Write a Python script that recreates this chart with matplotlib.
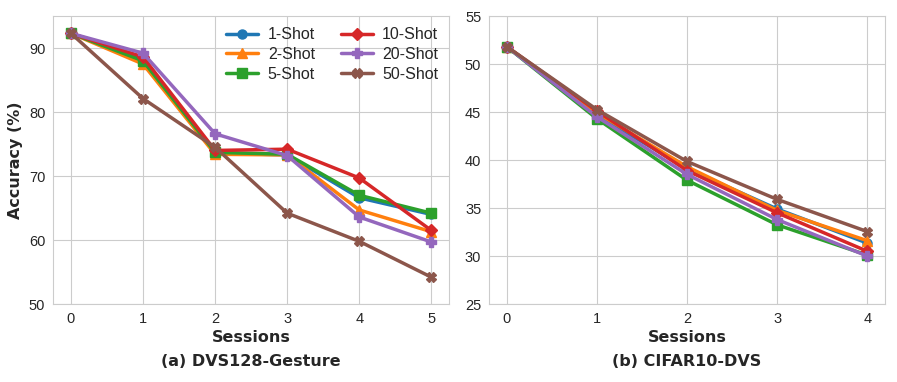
import matplotlib

matplotlib.use("Agg")

import matplotlib.pyplot as plt
import seaborn as sns

sns.set_style("whitegrid")
plt.rcParams["font.family"] = ["Liberation Sans", "DejaVu Sans"]

SHOTS = ["1-Shot", "2-Shot", "5-Shot", "10-Shot", "20-Shot", "50-Shot"]
COLORS = ["#1f77b4", "#ff7f0e", "#2ca02c", "#d62728", "#9467bd", "#8c564b"]
MARKERS = ["o", "^", "s", "D", "P", "X"]

# (a) DVS128-Gesture, sessions 0..5
gesture_sessions = [0, 1, 2, 3, 4, 5]
gesture_acc = {
    "1-Shot": [92.3, 88.3, 73.6, 73.3, 66.6, 64.0],
    "2-Shot": [92.3, 87.5, 73.4, 73.3, 64.7, 61.3],
    "5-Shot": [92.3, 88.0, 73.7, 73.4, 67.0, 64.2],
    "10-Shot": [92.3, 88.6, 74.0, 74.2, 69.7, 61.5],
    "20-Shot": [92.3, 89.2, 76.6, 73.2, 63.6, 59.7],
    "50-Shot": [92.3, 82.1, 74.5, 64.2, 59.8, 54.2],
}

# (b) CIFAR10-DVS, sessions 0..4
cifar_sessions = [0, 1, 2, 3, 4]
cifar_acc = {
    "1-Shot": [51.8, 44.7, 39.1, 34.9, 31.35],
    "2-Shot": [51.8, 44.9, 39.3, 34.75, 31.6],
    "5-Shot": [51.8, 44.3, 37.9, 33.25, 30.1],
    "10-Shot": [51.8, 45.1, 38.9, 34.5, 30.5],
    "20-Shot": [51.8, 44.5, 38.5, 33.8, 30.0],
    "50-Shot": [51.8, 45.25, 39.85, 35.9, 32.55],
}

fig = plt.figure(figsize=(8.97, 3.82), dpi=100)
ax_a = fig.add_axes([0.059, 0.204, 0.442, 0.754])
ax_b = fig.add_axes([0.545, 0.204, 0.442, 0.754])

bold = dict(fontsize=11.5, fontweight="bold", family="DejaVu Sans", color="#262626")

for ax, sessions, acc in [(ax_a, gesture_sessions, gesture_acc),
                          (ax_b, cifar_sessions, cifar_acc)]:
    for name, c, m in zip(SHOTS, COLORS, MARKERS):
        ax.plot(sessions, acc[name], color=c, marker=m, label=name,
                linewidth=2.5, markersize=6.5)
    ax.set_xticks(sessions)
    ax.set_xlabel("Sessions", labelpad=3, **bold)
    ax.tick_params(labelsize=10.5, colors="#262626", pad=2)
    for s in ax.spines.values():
        s.set_color("#cccccc")

ax_a.set_ylim(50, 95)
ax_a.set_yticks([50, 60, 70, 80, 90])
ax_a.set_ylabel("Accuracy (%)", labelpad=4, **bold)
ax_a.legend(ncol=2, loc="upper right", frameon=False, fontsize=11.5,
            handlelength=2.0, handletextpad=0.6, columnspacing=1.6,
            labelspacing=0.3, borderaxespad=0.3)

ax_b.set_ylim(25, 55)
ax_b.set_yticks([25, 30, 35, 40, 45, 50, 55])

ax_a.text(0.5, -0.198, "(a) DVS128-Gesture", transform=ax_a.transAxes,
          ha="center", va="center", **bold)
ax_b.text(0.5, -0.198, "(b) CIFAR10-DVS", transform=ax_b.transAxes,
          ha="center", va="center", **bold)

fig.savefig("out.png", dpi=100)
